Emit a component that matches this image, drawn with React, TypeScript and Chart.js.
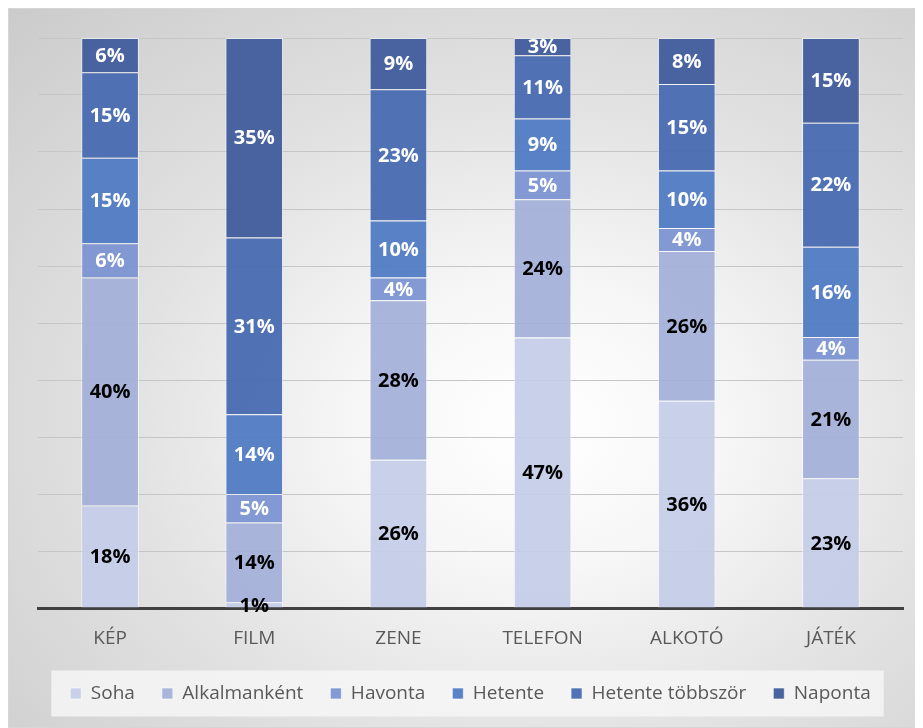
import React, { useEffect, useRef } from "react";
import { Chart, registerables } from "chart.js";
Chart.register(...registerables);

const categories = ["KÉP", "FILM", "ZENE", "TELEFON", "ALKOTÓ", "JÁTÉK"];
const seriesNames = ["Soha", "Alkalmanként", "Havonta", "Hetente", "Hetente többször", "Naponta"];
const soha = [18, 1, 26, 47, 36, 23];
const alkalmankent = [40, 14, 28, 24, 26, 21];
const havonta = [6, 5, 4, 5, 4, 4];
const hetente = [15, 14, 10, 9, 10, 16];
const hetenteTobbszor = [15, 31, 23, 11, 15, 22];
const naponta = [6, 35, 9, 3, 8, 15];
const seriesValues = [soha, alkalmankent, havonta, hetente, hetenteTobbszor, naponta];
const seriesColors = [
  "rgba(196,205,232,0.92)",
  "rgba(162,175,216,0.92)",
  "rgba(120,145,208,0.92)",
  "rgba(80,122,196,0.94)",
  "rgba(72,106,176,0.95)",
  "rgba(66,94,156,0.96)",
];
const labelColors = ["#000000", "#000000", "#ffffff", "#ffffff", "#ffffff", "#ffffff"];

const FONT = "'Open Sans', 'DejaVu Sans', sans-serif";

const totals = categories.map((_, i) => seriesValues.reduce((s, arr) => s + arr[i], 0));

const labelPlugin = {
  id: "segLabels",
  afterDatasetsDraw(chart: any) {
    const ctx = chart.ctx;
    ctx.save();
    ctx.font = `bold 20px ${FONT}`;
    ctx.textAlign = "center";
    ctx.textBaseline = "middle";
    chart.data.datasets.forEach((ds: any, di: number) => {
      const meta = chart.getDatasetMeta(di);
      meta.data.forEach((el: any, i: number) => {
        const cy = (el.y + el.base) / 2;
        ctx.fillStyle = labelColors[di];
        ctx.fillText(ds.raw[i] + "%", el.x, cy + 1);
      });
    });
    ctx.restore();
  },
};

const legendBgPlugin = {
  id: "legendBg",
  beforeDraw(chart: any) {
    const lg = chart.legend;
    if (!lg || !lg.legendHitBoxes || !lg.legendHitBoxes.length) return;
    const hb = lg.legendHitBoxes;
    let minL = Infinity, maxR = -Infinity, top = hb[0].top, h = hb[0].height;
    hb.forEach((b: any) => {
      minL = Math.min(minL, b.left);
      maxR = Math.max(maxR, b.left + b.width);
    });
    const ctx = chart.ctx;
    ctx.save();
    ctx.fillStyle = "rgba(246,246,246,0.85)";
    ctx.fillRect(minL - 19, top + h / 2 - 23, maxR - minL + 32, 46);
    ctx.restore();
  },
};

export default function App() {
  const ref = useRef<HTMLCanvasElement>(null);
  useEffect(() => {
    document.body.style.overflow = "hidden";
    const chart = new Chart(ref.current!, {
      type: "bar",
      data: {
        labels: categories,
        datasets: seriesNames.map((name, si) => ({
          label: name,
          data: seriesValues[si].map((v, i) => (v / totals[i]) * 100),
          raw: seriesValues[si],
          backgroundColor: seriesColors[si],
          borderColor: "rgba(255,255,255,0.6)",
          borderWidth: 1,
          barPercentage: 0.4,
          categoryPercentage: 1.0,
        })) as any,
      },
      options: {
        responsive: false,
        animation: false,
        layout: { padding: { left: 30, top: 30, right: 20, bottom: 15 } },
        plugins: {
          tooltip: { enabled: false },
          legend: {
            position: "bottom",
            labels: {
              color: "#595959",
              font: { family: FONT, size: 19 },
              boxWidth: 11,
              boxHeight: 11,
              padding: 27,
            },
          },
        },
        scales: {
          x: {
            stacked: true,
            grid: { display: false, drawTicks: false },
            border: { display: true, color: "#404040", width: 3 },
            ticks: { color: "#595959", font: { family: FONT, size: 19 }, padding: 19 },
            afterFit: (s: any) => { s.height = 49; },
          },
          y: {
            stacked: true,
            min: 0,
            max: 100,
            ticks: { display: false, stepSize: 10 },
            grid: { color: "#c6c6c6", lineWidth: 1, drawTicks: false },
            border: { display: false },
            afterFit: (s: any) => { s.width = 0; },
          },
        },
      },
      plugins: [legendBgPlugin, labelPlugin],
    });
    return () => chart.destroy();
  }, []);
  return (
    <div
      style={{
        width: 915,
        height: 720,
        position: "relative",
        background:
          "radial-gradient(ellipse farthest-corner at 58% 58%, #ffffff 0%, #f6f6f6 25%, #e2e2e2 55%, #cbcbcb 100%)",
        boxShadow: "inset 0 0 0 1px #d6d6d6",
      }}
    >
      <canvas ref={ref} width={915} height={720} style={{ display: "block" }} />
    </div>
  );
}
